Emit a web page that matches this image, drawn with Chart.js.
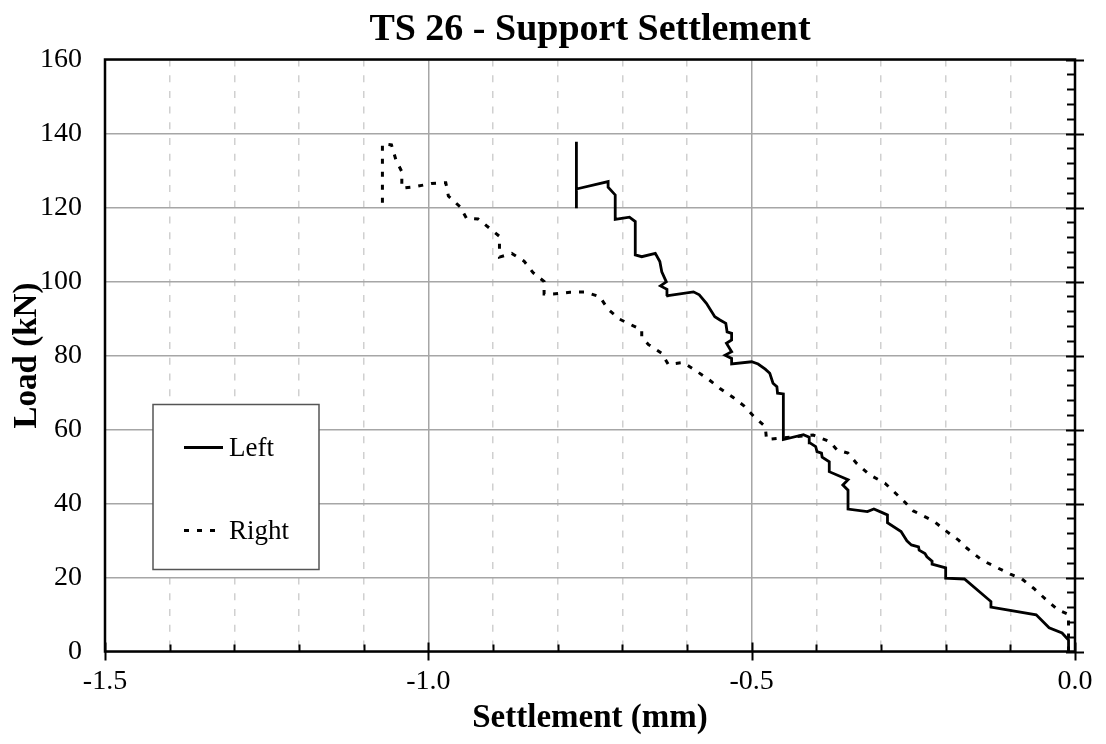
<!DOCTYPE html>
<html>
<head>
<meta charset="utf-8">
<script src="https://cdn.jsdelivr.net/npm/chart.js@4/dist/chart.umd.min.js"></script>
<style>
  html, body { margin: 0; padding: 0; background: #fff; }
  #wrap { width: 1106px; height: 744px; position: relative; }
</style>
</head>
<body>
<div id="wrap"><canvas id="c" width="1106" height="744"></canvas></div>
<script>
const chartTitle = 'TS 26 - Support Settlement';
const xAxisTitle = 'Settlement (mm)';
const yAxisTitle = 'Load (kN)';
const seriesNames = ['Left', 'Right'];

const leftX = [-0.010,-0.010,-0.020,-0.040,-0.060,-0.130,-0.130,-0.171,-0.200,-0.200,-0.221,-0.221,-0.229,-0.232,-0.241,-0.242,-0.253,-0.260,-0.269,-0.290,-0.290,-0.299,-0.311,-0.321,-0.351,-0.351,-0.359,-0.351,-0.380,-0.380,-0.391,-0.392,-0.399,-0.401,-0.410,-0.411,-0.420,-0.451,-0.451,-0.460,-0.461,-0.467,-0.472,-0.479,-0.490,-0.500,-0.531,-0.531,-0.541,-0.531,-0.539,-0.531,-0.531,-0.538,-0.540,-0.549,-0.557,-0.570,-0.581,-0.590,-0.632,-0.631,-0.641,-0.632,-0.639,-0.642,-0.649,-0.670,-0.680,-0.680,-0.689,-0.711,-0.711,-0.722,-0.722,-0.771,-0.771,-0.771];
const leftY = [0,3.1,5.0,6.4,9.9,12.0,13.5,19.6,19.8,22.6,23.6,24.4,25.6,26.5,27.4,28.3,28.8,29.9,32.4,34.8,36.9,37.6,38.5,37.8,38.5,43.6,45.0,46.4,48.6,51.3,52.5,53.6,54.0,55.4,56.4,57.9,58.6,57.3,69.6,69.8,71.6,72.5,75.2,76.3,77.7,78.3,77.7,79.2,80.1,81.0,83.3,84.2,86.0,86.4,88.7,89.6,90.5,94.1,96.4,97.2,96.1,97.9,98.8,99.9,102.6,105.4,107.6,106.7,107.2,116.2,117.4,116.8,123.4,125.5,127.0,125.0,137.8,119.8];

const rightX = [-0.010,-0.010,-0.026,-0.044,-0.064,-0.082,-0.100,-0.144,-0.167,-0.180,-0.198,-0.219,-0.250,-0.265,-0.294,-0.317,-0.338,-0.351,-0.368,-0.379,-0.405,-0.477,-0.479,-0.497,-0.512,-0.529,-0.549,-0.567,-0.588,-0.606,-0.629,-0.639,-0.660,-0.670,-0.670,-0.683,-0.704,-0.722,-0.735,-0.758,-0.781,-0.807,-0.821,-0.821,-0.838,-0.852,-0.871,-0.890,-0.890,-0.906,-0.923,-0.941,-0.951,-0.969,-0.973,-0.995,-1.021,-1.041,-1.041,-1.050,-1.057,-1.071,-1.071];
const rightY = [0,10.0,11.2,13.9,17.1,19.6,20.9,24.7,27.9,30.1,32.4,35.3,38.0,40.7,45.5,47.7,50.9,53.6,54.5,56.7,58.5,57.3,60.8,63.6,66.4,68.7,71.1,73.6,76.1,78.1,77.6,80.6,83.0,85.1,87.0,88.0,89.8,92.5,95.9,97.2,97.1,96.6,96.6,100.0,102.4,105.5,107.6,106.6,112.2,114.5,116.9,117.1,120.2,123.1,126.7,126.5,125.6,125.2,129.7,132.8,136.9,137.2,119.8];

const xMin = -1.5, xMax = 0.0, xStep = 0.1;
const yMin = 0, yMax = 160, yStep = 20;

function toPoints(xs, ys) { return xs.map((x, i) => ({x: x, y: ys[i]})); }

const SERIF = "'Liberation Serif', 'Times New Roman', serif";

function isMajorX(v) { return Math.abs(v * 2 - Math.round(v * 2)) < 1e-6; }

const framePlugin = {
  id: 'framePlugin',
  afterDraw(chart) {
    const {ctx, chartArea: a, scales} = chart;
    const xs = scales.x, ys = scales.y;
    ctx.save();
    ctx.strokeStyle = '#000';
    ctx.lineWidth = 2.5;
    ctx.strokeRect(a.left, a.top, a.right - a.left, a.bottom - a.top);
    ctx.lineWidth = 2;
    const n = Math.round((xMax - xMin) / xStep);
    for (let i = 0; i <= n; i++) {
      const v = xMin + i * xStep;
      const px = Math.round(xs.getPixelForValue(v)) + 0.5;
      ctx.beginPath();
      if (i % 5 === 0) { ctx.moveTo(px, a.bottom - 9); ctx.lineTo(px, a.bottom + 9); }
      else { ctx.moveTo(px, a.bottom - 7); ctx.lineTo(px, a.bottom); }
      ctx.stroke();
    }
    for (let v = yMin; v <= yMax; v += 4) {
      const py = Math.round(ys.getPixelForValue(v)) + 0.5;
      ctx.beginPath();
      if (v % yStep === 0) { ctx.moveTo(a.right - 9, py); ctx.lineTo(a.right + 9, py); }
      else { ctx.moveTo(a.right - 8, py); ctx.lineTo(a.right, py); }
      ctx.stroke();
    }
    ctx.fillStyle = '#000';
    ctx.font = 'bold 38px ' + SERIF;
    ctx.textAlign = 'center';
    ctx.textBaseline = 'middle';
    ctx.fillText(chartTitle, (a.left + a.right) / 2, 30);
    const bx = a.left + 48, by = a.top + 345, bw = 166, bh = 165;
    ctx.fillStyle = '#fff';
    ctx.fillRect(bx, by, bw, bh);
    ctx.strokeStyle = '#555';
    ctx.lineWidth = 1.5;
    ctx.strokeRect(bx, by, bw, bh);
    const ds = chart.data.datasets;
    const rows = [by + 43, by + 126];
    ds.forEach((d, i) => {
      ctx.strokeStyle = d.borderColor;
      ctx.lineWidth = d.borderWidth;
      ctx.setLineDash(d.borderDash || []);
      ctx.beginPath();
      ctx.moveTo(bx + 31, rows[i]);
      ctx.lineTo(bx + 70, rows[i]);
      ctx.stroke();
      ctx.setLineDash([]);
      ctx.fillStyle = '#000';
      ctx.font = '27px ' + SERIF;
      ctx.textAlign = 'left';
      ctx.textBaseline = 'middle';
      ctx.fillText(d.label, bx + 76, rows[i] + 1);
    });
    ctx.restore();
  }
};

new Chart(document.getElementById('c'), {
  type: 'line',
  data: {
    datasets: [
      { label: seriesNames[0], data: toPoints(leftX, leftY), borderColor: '#000', borderWidth: 2.8, pointRadius: 0, tension: 0, fill: false },
      { label: seriesNames[1], data: toPoints(rightX, rightY), borderColor: '#000', borderWidth: 3, borderDash: [5, 8], pointRadius: 0, tension: 0, fill: false }
    ]
  },
  options: {
    responsive: false,
    animation: false,
    events: [],
    layout: { padding: { top: 59.5, right: 31, bottom: 0, left: 0 } },
    plugins: { legend: { display: false }, title: { display: false }, tooltip: { enabled: false } },
    scales: {
      x: {
        type: 'linear', min: xMin, max: xMax,
        afterFit(s) { s.height = 92.5; },
        ticks: {
          stepSize: xStep, padding: 13, color: '#000', maxRotation: 0, autoSkip: false,
          font: { family: SERIF, size: 28 },
          callback(v) { return isMajorX(v) ? (Math.abs(v) < 1e-9 ? '0.0' : v.toFixed(1)) : ''; }
        },
        grid: {
          drawTicks: false,
          color(ctx) { return ctx.tick && isMajorX(ctx.tick.value) ? '#a6a6a6' : '#d0d0d0'; },
          lineWidth: 1.5
        },
        border: {
          display: false,
          dash(ctx) { return ctx.tick && !isMajorX(ctx.tick.value) ? [7, 8.7] : []; }
        },
        title: { display: true, text: xAxisTitle, color: '#000', font: { family: SERIF, size: 33, weight: 'bold' }, padding: { top: 0, bottom: 6 } }
      },
      y: {
        type: 'linear', min: yMin, max: yMax,
        afterFit(s) { s.width = 105; },
        ticks: { stepSize: yStep, padding: 23, color: '#000', font: { family: SERIF, size: 28 } },
        grid: { drawTicks: false, color: '#a6a6a6', lineWidth: 1.5 },
        border: { display: false },
        title: { display: true, text: yAxisTitle, color: '#000', font: { family: SERIF, size: 33, weight: 'bold' }, padding: { top: 8, bottom: 0 } }
      }
    }
  },
  plugins: [framePlugin]
});
</script>
</body>
</html>
